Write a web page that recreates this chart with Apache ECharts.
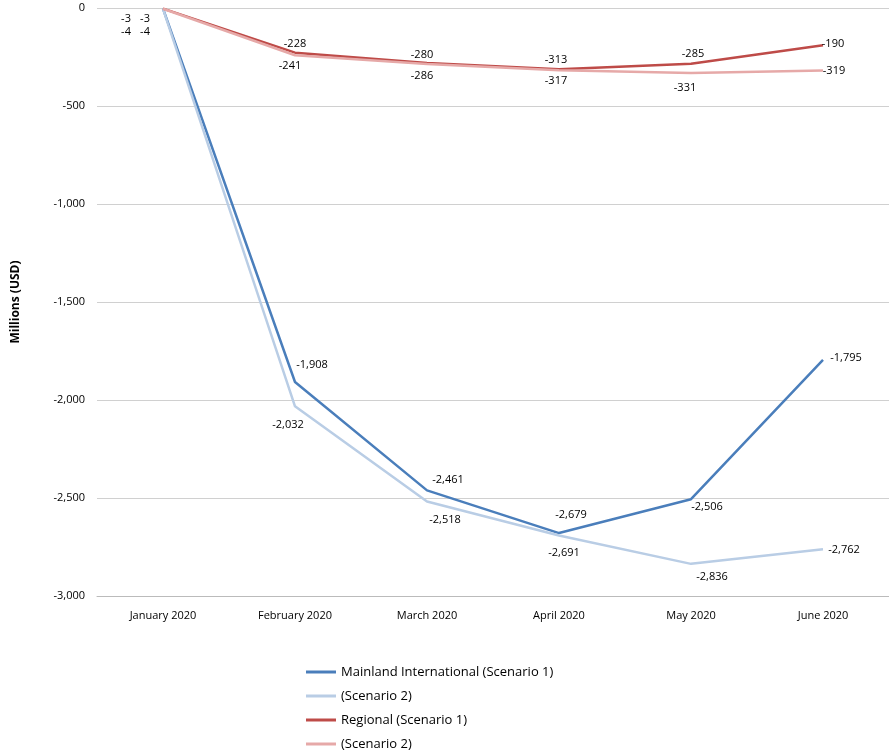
<!DOCTYPE html>
<html><head><meta charset="utf-8">
<script src="https://cdn.jsdelivr.net/npm/echarts@6/dist/echarts.min.js"></script>
<style>body{margin:0}#c{width:889px;height:753px}</style></head>
<body><div id="c"></div>
<script>
const categories=['January 2020','February 2020','March 2020','April 2020','May 2020','June 2020'];
const mainlandS1=[-3,-1908,-2461,-2679,-2506,-1795];
const mainlandS2=[-4,-2032,-2518,-2691,-2836,-2762];
const regionalS1=[-3,-228,-280,-313,-285,-190];
const regionalS2=[-4,-241,-286,-317,-331,-319];
const offMS1=[[-37,10],[17,-17],[21,-10],[12,-18],[16,8],[23,-2]];
const offMS2=[[-37,23],[-7,19],[18,18],[5,17],[21,13],[21,1]];
const offRS1=[[-18,10],[0,-9],[-5,-8],[-3,-9],[2,-10],[10,-1]];
const offRS2=[[-18,23],[-5,11],[-5,12],[-3,11],[-6,15],[11,0]];
const fmt=v=>v.toLocaleString('en-US');
function mk(name,vals,offs,color){
  return {name,type:'line',symbol:'circle',symbolSize:0.1,showSymbol:true,lineStyle:{color,width:2.5},itemStyle:{color},
    data:vals.map((v,i)=>({value:v,label:{show:true,position:'inside',offset:offs[i],formatter:p=>fmt(p.value),color:'#000',fontSize:11,fontFamily:'Open Sans'}}))};
}
const chart=echarts.init(document.getElementById('c'));
chart.setOption({
  animation:false,
  grid:{left:97,right:0,top:8,bottom:157},
  xAxis:{type:'category',data:categories,boundaryGap:true,position:'bottom',
    axisLine:{onZero:false,lineStyle:{color:'#bbb'}},axisTick:{show:false},
    axisLabel:{color:'#000',fontSize:11,fontFamily:'Open Sans',margin:14}},
  yAxis:{type:'value',min:-3000,max:0,interval:500,name:'Millions (USD)',nameLocation:'middle',nameGap:75,
    nameTextStyle:{fontWeight:'bold',fontSize:12,color:'#000',fontFamily:'Open Sans'},
    axisLine:{show:false},axisTick:{show:false},splitLine:{lineStyle:{color:'#d0d0d0'}},
    axisLabel:{color:'#000',fontSize:11,fontFamily:'Open Sans',formatter:v=>fmt(v),margin:12}},
  legend:{orient:'vertical',left:306,top:664,padding:0,itemGap:8,itemWidth:30,itemHeight:3,icon:'rect',
    textStyle:{fontSize:13,color:'#000',fontFamily:'Open Sans',lineHeight:16},
    data:['Mainland International (Scenario 1)','(Scenario 2) ','Regional (Scenario 1)','(Scenario 2)']},
  series:[
    mk('Mainland International (Scenario 1)',mainlandS1,offMS1,'#4a7ebb'),
    mk('(Scenario 2) ',mainlandS2,offMS2,'#b9cde5'),
    mk('Regional (Scenario 1)',regionalS1,offRS1,'#be4b48'),
    mk('(Scenario 2)',regionalS2,offRS2,'#e6a9a8')
  ]
});
</script></body></html>
